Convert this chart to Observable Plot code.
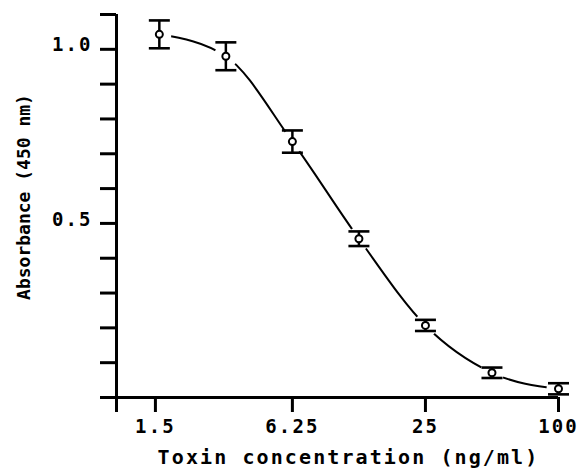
<!DOCTYPE html>
<html>
<head>
<meta charset="utf-8">
<script src="https://cdn.jsdelivr.net/npm/d3@7"></script>
<script src="https://cdn.jsdelivr.net/npm/@observablehq/plot@0.6"></script>
<style>
  html, body { margin: 0; padding: 0; background: #fff; }
  svg text { letter-spacing: 2.1px; }
</style>
</head>
<body>
<div id="chart"></div>
<script>
// Data
const concentration = [1.5625, 3.125, 6.25, 12.5, 25, 50, 100];   // ng/ml
const absorbance    = [1.043, 0.980, 0.735, 0.456, 0.207, 0.071, 0.025];
const errorBar      = [0.040, 0.040, 0.032, 0.021, 0.016, 0.015, 0.016];

const xTickValues = [1, 1.5, 6.25, 25, 100];
const xLabelValues = [1.5, 6.25, 25, 100];
const xTickLabels = ["1.5", "6.25", "25", "100"];
const yTickValues = [0, 0.1, 0.2, 0.3, 0.4, 0.5, 0.6, 0.7, 0.8, 0.9, 1.0, 1.1];
const yLabelValues = [0.5, 1.0];
const yTickLabels = ["0.5", "1.0"];

const xTitle = "Toxin concentration (ng/ml)";
const yTitle = "Absorbance (450 nm)";

const data = concentration.map((c, i) => ({
  x: c, y: absorbance[i], lo: absorbance[i] - errorBar[i], hi: absorbance[i] + errorBar[i]
}));

// horizontal cap glyph for error bars
const capSymbol = { draw(ctx) { ctx.moveTo(-10.5, 0); ctx.lineTo(10.5, 0); } };

const chart = Plot.plot({
  width: 582,
  height: 474,
  marginLeft: 116,
  marginRight: 24,
  marginTop: 14,
  marginBottom: 77,
  x: { type: "log", domain: [1, 100] },
  y: { domain: [0, 1.1] },
  style: { fontFamily: "DejaVu Sans Mono", fontWeight: "bold", color: "#000", background: "#fff" },
  marks: [
    Plot.line(data, { x: "x", y: "y", curve: "monotone-x", stroke: "#000", strokeWidth: 2 }),
    Plot.dot(data, { x: "x", y: "y", r: 12, fill: "#fff", stroke: null }),
    Plot.ruleX(data, { x: "x", y1: "lo", y2: "hi", stroke: "#000", strokeWidth: 2.5 }),
    Plot.dot(data, { x: "x", y: "hi", symbol: capSymbol, r: 5, stroke: "#000", strokeWidth: 2.6, fill: null }),
    Plot.dot(data, { x: "x", y: "lo", symbol: capSymbol, r: 5, stroke: "#000", strokeWidth: 2.6, fill: null }),
    Plot.dot(data, { x: "x", y: "y", r: 3.5, fill: "#fff", stroke: "#000", strokeWidth: 2 }),
    Plot.ruleX([1], { y1: 0, y2: 1.1, stroke: "#000", strokeWidth: 3 }),
    Plot.ruleY([0], { x1: 1, x2: 100, stroke: "#000", strokeWidth: 3 }),
    Plot.axisY({ ticks: yTickValues, tickSize: 16, strokeWidth: 3, tickFormat: () => "", label: null }),
    Plot.axisX({ ticks: xTickValues, tickSize: 15, strokeWidth: 3, tickFormat: () => "", label: null }),
    Plot.text(yLabelValues, {
      y: d => d, text: (d, i) => yTickLabels[i], frameAnchor: "left", textAnchor: "end",
      dx: -24, dy: -4, fontSize: 19, fill: "#000"
    }),
    Plot.text(xLabelValues, {
      x: d => d, text: (d, i) => xTickLabels[i], frameAnchor: "bottom", textAnchor: "middle",
      lineAnchor: "top", dy: 22, fontSize: 19, fill: "#000"
    }),
    Plot.text([xTitle], { text: d => d, frameAnchor: "bottom", textAnchor: "middle", dx: 11, dy: 66, fontSize: 20, fill: "#000" }),
    Plot.text([yTitle], { text: d => d, frameAnchor: "left", textAnchor: "middle", dx: -92, dy: -9, rotate: -90, fontSize: 18, fill: "#000" })
  ]
});
d3.select(chart).selectAll("text")
  .filter(function () { return this.textContent === yTitle; })
  .style("letter-spacing", "0px");
document.getElementById("chart").appendChild(chart);
</script>
</body>
</html>
